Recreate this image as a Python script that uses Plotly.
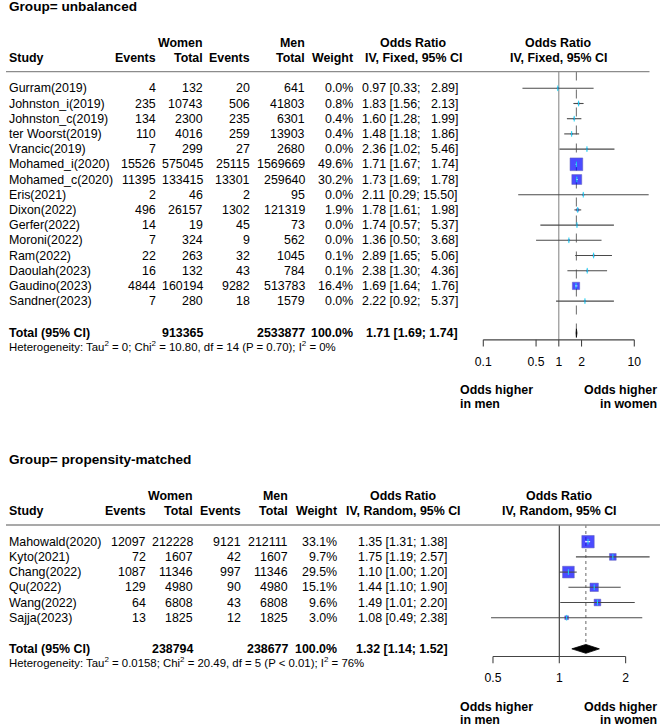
import math
import plotly.graph_objects as go

# ---------------- data: Group = unbalanced ----------------
u_study = ["Gurram(2019)", "Johnston_i(2019)", "Johnston_c(2019)", "ter Woorst(2019)", "Vrancic(2019)",
           "Mohamed_i(2020)", "Mohamed_c(2020)", "Eris(2021)", "Dixon(2022)", "Gerfer(2022)",
           "Moroni(2022)", "Ram(2022)", "Daoulah(2023)", "Gaudino(2023)", "Sandner(2023)"]
u_ev_w = [4, 235, 134, 110, 7, 15526, 11395, 2, 496, 14, 7, 22, 16, 4844, 7]
u_tot_w = [132, 10743, 2300, 4016, 299, 575045, 133415, 46, 26157, 19, 324, 263, 132, 160194, 280]
u_ev_m = [20, 506, 235, 259, 27, 25115, 13301, 2, 1302, 45, 9, 32, 43, 9282, 18]
u_tot_m = [641, 41803, 6301, 13903, 2680, 1569669, 259640, 95, 121319, 73, 562, 1045, 784, 513783, 1579]
u_weight = [0.0, 0.8, 0.4, 0.4, 0.0, 49.6, 30.2, 0.0, 1.9, 0.0, 0.0, 0.1, 0.1, 16.4, 0.0]
u_or = [0.97, 1.83, 1.60, 1.48, 2.36, 1.71, 1.73, 2.11, 1.78, 1.74, 1.36, 2.89, 2.38, 1.69, 2.22]
u_lo = [0.33, 1.56, 1.28, 1.18, 1.02, 1.67, 1.69, 0.29, 1.61, 0.57, 0.50, 1.65, 1.30, 1.64, 0.92]
u_hi = [2.89, 2.13, 1.99, 1.86, 5.46, 1.74, 1.78, 15.50, 1.98, 5.37, 3.68, 5.06, 4.36, 1.76, 5.37]
u_total_w = 913365
u_total_m = 2533877
u_pooled = [1.71, 1.69, 1.74]
u_het = "Heterogeneity: Tau<sup>2</sup> = 0; Chi<sup>2</sup> = 10.80, df = 14 (P = 0.70); I<sup>2</sup> = 0%"
u_ticks = [0.1, 0.5, 1, 2, 10]
u_tick_labels = ["0.1", "0.5", "1", "2", "10"]

# ---------------- data: Group = propensity-matched ----------------
p_study = ["Mahowald(2020)", "Kyto(2021)", "Chang(2022)", "Qu(2022)", "Wang(2022)", "Sajja(2023)"]
p_ev_w = [12097, 72, 1087, 129, 64, 13]
p_tot_w = [212228, 1607, 11346, 4980, 6808, 1825]
p_ev_m = [9121, 42, 997, 90, 43, 12]
p_tot_m = [212111, 1607, 11346, 4980, 6808, 1825]
p_weight = [33.1, 9.7, 29.5, 15.1, 9.6, 3.0]
p_or = [1.35, 1.75, 1.10, 1.44, 1.49, 1.08]
p_lo = [1.31, 1.19, 1.00, 1.10, 1.01, 0.49]
p_hi = [1.38, 2.57, 1.20, 1.90, 2.20, 2.38]
p_total_w = 238794
p_total_m = 238677
p_pooled = [1.32, 1.14, 1.52]
p_het = "Heterogeneity: Tau<sup>2</sup> = 0.0158; Chi<sup>2</sup> = 20.49, df = 5 (P < 0.01); I<sup>2</sup> = 76%"
p_ticks = [0.5, 1, 2]
p_tick_labels = ["0.5", "1", "2"]

# ---------------- layout constants ----------------
W, H = 660, 727
FONT = "Liberation Sans, Arial, sans-serif"
FS = 12.4
TITLE_FS = 13.6
HET_FS = 11.4
PITCH = 15.2
SPLIT = 420          # pixel row separating the two panels
PLOT_X0, PLOT_X1 = 440, 660

fig = go.Figure()


def pxx(x):
    return x / W


def ann(text, x, y, yref, anchor="left", bold=False, size=FS):
    if bold:
        text = "<b>" + text + "</b>"
    fig.add_annotation(text=text, x=pxx(x), y=y, xref="paper", yref=yref,
                       xanchor=anchor, yanchor="middle", showarrow=False,
                       font=dict(family=FONT, size=size, color="black"))


def panel(idx, title, method, study, ev_w, tot_w, ev_m, tot_m, weight, ors, los, his,
          tot_w_sum, tot_m_sum, pooled, het, ticks, tick_labels, cfg):
    xa = "x" if idx == 1 else "x%d" % idx
    ya = "y" if idx == 1 else "y%d" % idx
    n = len(study)
    rows = list(range(n))
    total_row = n + 1 + cfg["total_shift"]
    axis_row = n + 1 + 0.55

    # axes
    ppd = cfg["ppd"]
    x1 = cfg["one_px"]
    xr = [(PLOT_X0 - x1) / ppd, (PLOT_X1 - x1) / ppd]
    top_px, bot_px = cfg["dom_px"]
    r0 = cfg["row0_px"]
    yr = [(bot_px - r0) / PITCH, (top_px - r0) / PITCH]
    xkey = "xaxis" if idx == 1 else "xaxis%d" % idx
    ykey = "yaxis" if idx == 1 else "yaxis%d" % idx
    fig.update_layout(**{
        xkey: dict(type="log", range=xr, domain=[PLOT_X0 / W, PLOT_X1 / W], anchor=ya, visible=False),
        ykey: dict(range=yr, domain=[1 - bot_px / H, 1 - top_px / H], anchor=xa, visible=False),
    })

    c = cfg["cols"]
    # title
    ann(title, 6.5, -5.4, ya, bold=True, size=TITLE_FS)
    # headers
    ann("Women", c["tot_w"], -3, ya, "right", True)
    ann("Men", c["tot_m"], -3, ya, "right", True)
    ann("Study", 6.5, -2, ya, "left", True)
    ann("Events", c["ev_w"], -2, ya, "right", True)
    ann("Total", c["tot_w"], -2, ya, "right", True)
    ann("Events", c["ev_m"], -2, ya, "right", True)
    ann("Total", c["tot_m"], -2, ya, "right", True)
    ann("Weight", c["weight"], -2, ya, "right", True)
    ann("Odds Ratio", c["or_hdr"], -3, ya, "center", True)
    ann(method, c["or_hdr"], -2, ya, "center", True)
    ann("Odds Ratio", c["plot_hdr"], -3, ya, "center", True)
    ann(method, c["plot_hdr"], -2, ya, "center", True)
    fig.add_shape(type="line", xref="paper", yref=ya, x0=pxx(6), x1=pxx(cfg["hline_end"]),
                  y0=-1.1, y1=-1.1, line=dict(color="#8c8c8c", width=1.3))

    # rows
    width_hi = max(len("%.2f" % v) for v in his)
    for r in rows:
        ann(study[r], 6.5, r, ya)
        ann(str(ev_w[r]), c["ev_w"], r, ya, "right")
        ann(str(tot_w[r]), c["tot_w"], r, ya, "right")
        ann(str(ev_m[r]), c["ev_m"], r, ya, "right")
        ann(str(tot_m[r]), c["tot_m"], r, ya, "right")
        ann("%.1f%%" % weight[r], c["weight"], r, ya, "right")
        hi_s = "%.2f" % his[r]
        pad = " " * (2 * (width_hi - len(hi_s)) + 1)
        ann("%.2f [%.2f;%s%s]" % (ors[r], los[r], pad, hi_s), c["or_right"], r, ya, "right")

    # totals
    ann("Total (95% CI)", 6.5, total_row, ya, bold=True)
    ann(str(tot_w_sum), c["tot_w"], total_row, ya, "right", True)
    ann(str(tot_m_sum), c["tot_m"], total_row, ya, "right", True)
    ann("%.1f%%" % 100.0, c["weight"], total_row, ya, "right", True)
    ann("%.2f [%.2f; %.2f]" % tuple(pooled), c["or_right"], total_row, ya, "right", True)
    ann(het, 6.5, n + 1.93, ya, size=HET_FS)

    # reference line at 1 and pooled line
    fig.add_trace(go.Scatter(x=[1, 1], y=[-1.1, axis_row], mode="lines", xaxis=xa, yaxis=ya,
                             line=dict(color=cfg["ref_color"], width=1.1), hoverinfo="skip"))
    dh = 0.29
    fig.add_trace(go.Scatter(x=[pooled[0], pooled[0]], y=[-1.1, total_row - dh], mode="lines",
                             xaxis=xa, yaxis=ya,
                             line=dict(color="#777777", width=1.1, dash=cfg["pooled_dash"]),
                             hoverinfo="skip"))

    # squares
    wmax = max(weight)
    sizes = [max(1.6, cfg["max_sq"] * math.sqrt(w / wmax)) for w in weight]
    fig.add_trace(go.Scatter(x=ors, y=rows, mode="markers", xaxis=xa, yaxis=ya,
                             marker=dict(symbol="square", size=sizes, color="#0000ff",
                                         line=dict(color="#1a1a99", width=0.5)),
                             hoverinfo="skip"))

    # CI lines (white when fully inside the square)
    dark_x, dark_y, white_x, white_y = [], [], [], []
    tick_col = []
    for r in rows:
        hw = sizes[r] / 2.0 / ppd
        le = math.log10(ors[r])
        inside = math.log10(los[r]) >= le - hw and math.log10(his[r]) <= le + hw
        if inside:
            white_x += [los[r], his[r], None]
            white_y += [r, r, None]
            tick_col.append("white")
        else:
            dark_x += [los[r], his[r], None]
            dark_y += [r, r, None]
            tick_col.append("#222222")
    fig.add_trace(go.Scatter(x=dark_x, y=dark_y, mode="lines", xaxis=xa, yaxis=ya,
                             line=dict(color="#4a4a4a", width=1.1), hoverinfo="skip"))
    fig.add_trace(go.Scatter(x=white_x, y=white_y, mode="lines", xaxis=xa, yaxis=ya,
                             line=dict(color="white", width=1.1), hoverinfo="skip"))
    fig.add_trace(go.Scatter(x=ors, y=rows, mode="markers", xaxis=xa, yaxis=ya,
                             marker=dict(symbol="line-ns-open", size=4,
                                         line=dict(color=tick_col, width=1)),
                             hoverinfo="skip"))

    # pooled diamond
    fig.add_trace(go.Scatter(x=[pooled[1], pooled[0], pooled[2], pooled[0], pooled[1]],
                             y=[total_row, total_row - dh, total_row, total_row + dh, total_row],
                             mode="lines", fill="toself", fillcolor="black", xaxis=xa, yaxis=ya,
                             line=dict(color="black", width=0.8), hoverinfo="skip"))

    # bottom axis
    fig.add_trace(go.Scatter(x=[ticks[0], ticks[-1]], y=[axis_row, axis_row], mode="lines",
                             xaxis=xa, yaxis=ya, line=dict(color="#444444", width=1.1),
                             hoverinfo="skip"))
    tx, ty = [], []
    for t in ticks:
        tx += [t, t, None]
        ty += [axis_row, axis_row + 0.44, None]
    fig.add_trace(go.Scatter(x=tx, y=ty, mode="lines", xaxis=xa, yaxis=ya,
                             line=dict(color="#444444", width=1.1), hoverinfo="skip"))
    fig.add_trace(go.Scatter(x=ticks, y=[n + 1 + 2.05] * len(ticks), mode="text",
                             text=tick_labels, textposition="middle center",
                             textfont=dict(family=FONT, size=12.2, color="black"),
                             xaxis=xa, yaxis=ya, hoverinfo="skip"))

    # direction labels
    base = n + 1
    ann("Odds higher", 458, base + 3.88, ya, "left", True)
    ann("in men", 458, base + 4.76, ya, "left", True)
    ann("Odds higher", 658.5, base + 3.88, ya, "right", True)
    ann("in women", 658.5, base + 4.76, ya, "right", True)


panel(1, "Group= unbalanced", "IV, Fixed, 95% CI",
      u_study, u_ev_w, u_tot_w, u_ev_m, u_tot_m, u_weight, u_or, u_lo, u_hi,
      u_total_w, u_total_m, u_pooled, u_het, u_ticks, u_tick_labels,
      dict(ppd=75.5, one_px=558.8, dom_px=(0, SPLIT), row0_px=88.3, max_sq=12.7,
           ref_color="#8a8a8a", pooled_dash="dash", hline_end=649.5, total_shift=0.1,
           cols=dict(ev_w=157.7, tot_w=205, ev_m=252.3, tot_m=306.7, weight=355.3,
                     or_right=459.5, or_hdr=413, plot_hdr=558.5)))

panel(2, "Group= propensity-matched", "IV, Random, 95% CI",
      p_study, p_ev_w, p_tot_w, p_ev_m, p_tot_m, p_weight, p_or, p_lo, p_hi,
      p_total_w, p_total_m, p_pooled, p_het, p_ticks, p_tick_labels,
      dict(ppd=220.3, one_px=559.3, dom_px=(SPLIT, H), row0_px=541.7, max_sq=12.4,
           ref_color="#333333", pooled_dash="dot", hline_end=660, total_shift=0.05,
           cols=dict(ev_w=147.7, tot_w=195, ev_m=242.7, tot_m=290, weight=339,
                     or_right=450, or_hdr=404, plot_hdr=559.5)))

fig.update_layout(width=W, height=H, margin=dict(l=0, r=0, t=0, b=0),
                  paper_bgcolor="white", plot_bgcolor="white", showlegend=False,
                  font=dict(family=FONT, size=FS, color="black"))

fig.write_html("out.html", config={"displayModeBar": False},
               post_script="document.body.style.margin='0px';document.body.style.overflow='hidden';")
